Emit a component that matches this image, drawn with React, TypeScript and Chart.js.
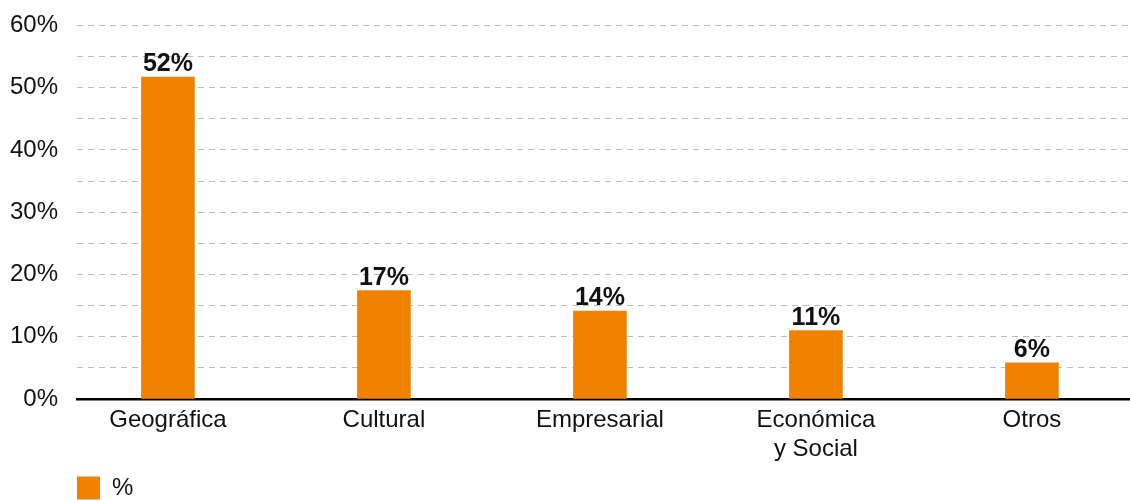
import React, { useEffect, useRef } from "react";
import { Chart, registerables } from "chart.js";

Chart.register(...registerables);

const categories: string[] = ["Geográfica", "Cultural", "Empresarial", "Económica\ny Social", "Otros"];
const values: number[] = [51.7, 17.4, 14.1, 11.0, 5.8];
const seriesLabel = "%";
const yTicks: number[] = [0, 10, 20, 30, 40, 50, 60];

const ORANGE = "#F08200";
const FONT = "'Liberation Sans', Arial, Helvetica, sans-serif";

const barLabels = {
  id: "barLabels",
  afterDatasetsDraw(chart: any) {
    const ctx = chart.ctx;
    const meta = chart.getDatasetMeta(0);
    ctx.save();
    ctx.font = `bold 25px ${FONT}`;
    ctx.fillStyle = "#111";
    ctx.textAlign = "center";
    ctx.textBaseline = "alphabetic";
    meta.data.forEach((el: any, i: number) => {
      ctx.fillText(Math.round(values[i]) + "%", el.x, el.y - 6);
    });
    ctx.restore();
  },
};

export default function App() {
  const ref = useRef<HTMLCanvasElement | null>(null);

  useEffect(() => {
    if (!ref.current) return;
    const chart = new Chart(ref.current, {
      type: "bar",
      data: {
        datasets: [
          {
            label: seriesLabel,
            data: values.map((v, i) => ({ x: i, y: v })),
            backgroundColor: ORANGE,
            borderWidth: 0,
            barThickness: 53,
          },
        ],
      },
      options: {
        animation: false,
        responsive: false,
        layout: { padding: { top: 0, left: 0, right: 0, bottom: 0 } },
        plugins: {
          tooltip: { enabled: false },
          legend: {
            position: "bottom",
            align: "start",
            fullSize: false,
            labels: {
              boxWidth: 23,
              boxHeight: 23,
              padding: 0,
              color: "#111",
              font: { family: FONT, size: 24 },
            },
          },
        },
        scales: {
          x: {
            type: "linear",
            offset: false,
            min: -0.421,
            max: 4.454,
            grid: { display: false, drawTicks: false },
            border: { display: true, color: "#000", width: 2.5 },
            afterBuildTicks: (scale: any) => {
              scale.ticks = categories.map((_, i) => ({ value: i }));
            },
            afterFit: (scale: any) => {
              scale.height = 77;
            },
            ticks: {
              padding: 7,
              color: "#111",
              font: { family: FONT, size: 24 },
              maxRotation: 0,
              autoSkip: false,
              callback: (v: any) => {
                const c = categories[Math.round(Number(v))];
                return c ? c.split("\n") : "";
              },
            },
          },
          y: {
            min: 0,
            max: 60,
            grid: { color: "#bdbdbd", lineWidth: 1, drawTicks: false },
            border: { display: false, dash: [6, 5] },
            afterBuildTicks: (scale: any) => {
              const t: any[] = [];
              for (let v = 0; v <= 60; v += 5) t.push({ value: v });
              scale.ticks = t;
            },
            afterFit: (scale: any) => {
              scale.width = 77;
            },
            ticks: {
              padding: 19,
              autoSkip: false,
              color: "#111",
              font: { family: FONT, size: 24 },
              callback: (v: any) => (yTicks.includes(Number(v)) ? v + "%" : ""),
            },
          },
        },
      },
      plugins: [barLabels],
    } as any);
    return () => chart.destroy();
  }, []);

  return (
    <div style={{ position: "absolute", left: 0, top: 0, width: 1130, height: 500, overflow: "hidden", background: "#fff" }}>
      <canvas ref={ref} width={1130} height={518} style={{ position: "absolute", left: 0, top: -8 }} />
    </div>
  );
}
